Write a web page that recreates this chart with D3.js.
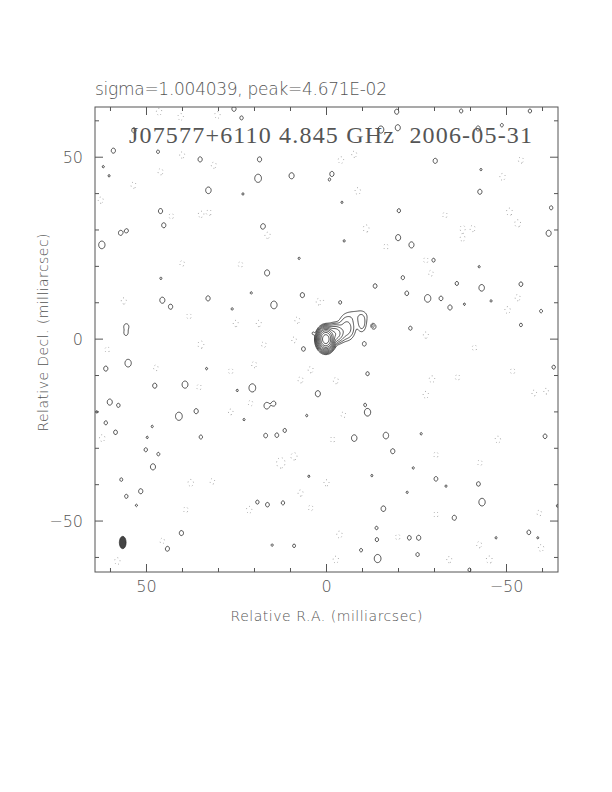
<!DOCTYPE html>
<html>
<head>
<meta charset="utf-8">
<script src="https://cdn.jsdelivr.net/npm/d3@7"></script>
<style>
body { margin: 0; background: #fff; }
text { font-family: "DejaVu Sans", sans-serif; font-weight: 200; fill: #555; }
</style>
</head>
<body>
<div id="map"></div>
<script>
// map extent (milliarcsec)
const raRange = [64.3, -64.3];
const decRange = [63.8, -64];

// ticks
const majorTicks = [50, 0, -50];
const majorLabels = ["50", "0", "\u221250"];
const minorTicks = [60, 40, 30, 20, 10, -10, -20, -30, -40, -60];

// contour levels (in units of the lowest contour)
const posLevels = [1, 2, 4, 8, 16, 32, 64, 128, 256, 512];
const negLevels = [1];

// source components: RA, Dec, peak, sigma RA, sigma Dec
const compRA   = [0.2, -2.3, -5.6, -9.8, -8.5];
const compDec  = [0.0,  1.5,  3.0,  4.3,  6.5];
const compPeak = [900,  30,   6.0,  3.0,  1.4];
const compSigRA  = [0.85, 1.2, 1.3, 0.8, 2.5];
const compSigDec = [1.15, 1.2, 1.8, 1.5, 1.3];

// positive noise peaks: [RA, Dec, size]
const posBlobs = [
  [53.5,57.4,1],[59.2,51.8,1],[46.8,51.5,0.7],[35.1,49.4,1],[18.6,49.4,1],[62.0,47.4,0.5],
  [60.4,44.9,0.5],[19.0,44.2,1.6],[9.7,44.9,1.2],[32.8,40.9,1.3],[23.2,39.9,0.5],[46.1,35.2,1],
  [45.2,31.3,1],[57.2,29.2,1],[55.5,29.8,0.8],[62.4,25.9,1.5],[17.6,30.9,1.2],[7.6,22.2,0.5],
  [16.5,18.2,1.2],[46.0,16.7,0.5],[20.9,12.7,0.5],[6.7,12.1,1],[0.9,10.7,0.7],[45.6,10.7,1.2],
  [43.3,8.9,1],[32.9,11.2,1],[14.6,9.4,1.5],[26.2,8.3,0.5],[55.6,3.4,1.2],[55.7,1.6,0.8],
  [3.7,1.6,0.5],[23.6,60.8,0.8],[25.7,63.3,1],
  [-19.5,62.5,1],[-37.4,62.7,0.8],[-56.5,62.7,0.8],[-15.1,57.6,1.4],[-19.8,58.1,1.2],[-42.1,57.9,1],
  [-48.7,58.8,0.7],[-30.2,49.0,1],[-1.5,45.4,1],[-0.8,43.8,0.5],[-42.9,46.6,0.5],[-42.6,40.5,1],
  [-4.3,37.6,0.5],[-20.1,35.3,0.8],[-62.4,36.1,0.8],[-61.7,29.1,1.2],[-19.9,27.9,1.2],[-23.6,25.9,1.2],
  [-4.9,27.0,0.5],[-29.7,21.7,0.8],[-42.4,19.9,0.5],[-21.2,16.9,0.8],[-13.5,14.6,0.9],[-36.2,15.3,0.8],
  [-43.1,14.1,1.3],[-54.0,15.1,0.9],[-22.3,12.6,0.9],[-28.1,11.2,1.5],[-31.8,11.2,0.9],[-34.3,8.7,1],
  [-38.3,9.6,0.5],[-45.7,10.5,0.5],[-59.6,7.7,0.7],[-3.8,10.1,0.7],[-54.0,3.9,0.7],[-23.3,3.0,0.8],
  [-12.8,3.7,0.5],[-13.2,3.4,0.9],
  [6.4,-2.7,0.9],[55.1,-6.6,1.5],[61.3,-8.1,1],[33.3,-8.1,0.5],[47.7,-12.8,1],[39.3,-12.5,1.4],
  [24.8,-14.1,0.5],[20.6,-13.4,1.6],[2.4,-15.0,1.2],[60.2,-17.3,1.2],[57.8,-18.2,0.8],[16.6,-18.3,1.3],
  [14.6,-17.7,0.9],[63.8,-20.0,0.5],[41.0,-21.2,1.6],[36.2,-19.8,1],[22.9,-22.1,0.5],[5.5,-21.0,0.5],
  [61.3,-23.0,0.8],[58.6,-25.6,0.9],[48.4,-24.0,0.5],[49.8,-27.0,0.5],[34.9,-26.9,0.8],[16.9,-26.5,0.9],
  [13.8,-26.4,0.9],[11.6,-25.1,0.8],[50.2,-30.4,0.8],[46.7,-31.6,0.7],[48.2,-35.1,1.2],[57.0,-38.6,0.7],
  [51.6,-41.8,1],[55.6,-43.2,0.8],[52.8,-45.7,0.5],[19.2,-44.8,0.8],[16.4,-45.5,0.9],[12.1,-45.0,0.8],
  [4.9,-37.7,0.5],[40.3,-53.3,1],[44.2,-57.6,1],[15.1,-56.6,0.5],[9.0,-56.8,0.7],
  [-10.5,-1.3,0.9],[-11.4,-9.5,0.8],[-63.1,-7.7,0.8],[-10.7,-18.0,0.5],[-11.4,-20.1,1.5],[-7.7,-27.2,1.3],
  [-16.5,-26.5,1.3],[-18.4,-30.8,1],[-60.7,-26.7,0.9],[-26.3,-26.0,0.5],[-24.1,-35.4,0.5],[-12.6,-37.5,0.5],
  [-30.4,-38.4,0.9],[-33.2,-40.4,0.5],[-42.2,-39.8,0.9],[-22.4,-42.1,0.5],[-43.2,-44.8,1.5],[-15.8,-46.6,1.1],
  [-35.5,-49.1,1],[-64.2,-45.8,0.6],[-13.9,-51.9,0.7],[-14.0,-55.1,0.8],[-23.0,-54.6,0.9],[-25.6,-54.6,1],
  [-56.2,-53.1,0.9],[-47.1,-54.6,0.5],[-58.7,-54.6,0.5],[-9.6,-58.0,0.7],[-14.2,-60.3,1.6],[-25.3,-59.2,0.8],
  [-39.7,-63.4,0.7]
];

// negative noise troughs: [RA, Dec, size]
const negBlobs = [
  [46.5,62.5,1.3],[40.5,61.1,1.3],[30.3,61.6,1.3],[40.1,50.6,1.2],[31.3,47.8,1.2],[46.1,46.0,1.2],
  [53.6,42.3,1.2],[62.7,38.2,1.2],[34.9,34.3,1.2],[32.6,34.8,1.1],[43.1,33.8,1.1],[16.4,28.6,1.3],
  [40.1,20.8,1.1],[23.9,20.5,1.1],[56.3,10.5,1.2],[2.1,10.3,1.3],[38.2,6.3,1.1],[18.8,4.3,1.2],
  [25.2,4.3,1.2],[8.1,5.2,1.2],[-4.0,49.2,1.3],[-7.7,50.8,1.2],[-8.7,40.7,1.3],[-48.9,44.6,1.3],
  [-54.0,49.2,1.2],[-11.0,30.4,1.4],[-32.9,34.1,1.1],[-37.8,30.4,1.2],[-40.6,30.4,1.2],[-50.8,35.0,1.4],
  [-53.1,31.8,1.4],[-37.8,27.7,1.1],[-27.6,21.7,1.1],[-29.0,18.1,1.1],[-50.3,8.0,1.3],[-27.6,1.1,1.2],
  [-53.1,11.4,1.2],[-16.5,25.4,1.1],[34.9,-1.5,1.4],[47.4,-7.9,1.1],[26.6,-8.8,1.1],[20.1,-7.0,1.2],
  [7.2,-11.2,1.2],[4.4,-8.4,1.2],[35.4,-13.2,1.1],[21.1,-17.6,1.1],[26.6,-20.0,1.1],[62.3,-27.2,1.3],
  [12.7,-34.0,2.0],[9.0,-32.2,1.4],[37.7,-39.5,1.3],[31.7,-39.1,1.1],[21.5,-46.9,1.3],[39.1,-46.9,1.1],
  [7.2,-42.3,1.2],[4.4,-46.4,1.1],[0.0,-39.5,1.2],[58.1,-61.0,1.3],[45.6,-55.5,1.1],[60.9,-2.9,1.1],
  [17.4,-1.5,1.1],[9.0,-0.2,1.1],[-2.6,-11.4,1.2],[-29.3,-11.0,1.3],[-36.4,-10.5,1.1],[-27.6,-15.3,1.3],
  [-4.7,-20.8,1.1],[-1.7,-27.6,1.1],[-47.6,-27.6,1.3],[-30.4,-31.8,1.1],[-42.6,-34.0,1.1],[-61.0,-14.3,1.1],
  [-57.7,-14.8,1.1],[-51.7,-8.8,1.1],[-41.1,-2.4,1.1],[-3.6,-53.7,1.3],[-2.6,-60.6,1.3],[-45.2,-60.6,1.4],
  [-59.6,-57.4,1.3],[-59.1,-47.8,1.1],[-34.1,-60.6,1.2],[-19.8,-54.4,1.1],[-30.4,-48.2,1.1],[-42.4,-56.5,1.2]
];

// restoring beam (mas)
const beamRA = 56.6, beamDec = -55.9, beamMajor = 3.4, beamMinor = 1.9;

const width = 612, height = 792;
const margin = {left: 95, right: 54, top: 107, bottom: 220};

const x = d3.scaleLinear().domain(raRange).range([margin.left, width - margin.right]);
const y = d3.scaleLinear().domain(decRange).range([margin.top, height - margin.bottom]);

const svg = d3.select("#map").append("svg")
    .attr("width", width)
    .attr("height", height);

// build the brightness grid from the components
const nx = 520, ny = 516;
const stepX = (raRange[0] - raRange[1]) / nx;
const stepY = (decRange[0] - decRange[1]) / ny;
const grid = new Float64Array(nx * ny);

function addGauss(ra, dec, amp, sx, sy) {
  const ci = (raRange[0] - ra) / stepX - 0.5;
  const cj = (decRange[0] - dec) / stepY - 0.5;
  const wx = Math.ceil(4 * sx / stepX), wy = Math.ceil(4 * sy / stepY);
  const i0 = Math.max(0, Math.floor(ci - wx)), i1 = Math.min(nx - 1, Math.ceil(ci + wx));
  const j0 = Math.max(0, Math.floor(cj - wy)), j1 = Math.min(ny - 1, Math.ceil(cj + wy));
  for (let j = j0; j <= j1; j++) {
    const dy = (j - cj) * stepY / sy;
    for (let i = i0; i <= i1; i++) {
      const dx = (i - ci) * stepX / sx;
      grid[j * nx + i] += amp * Math.exp(-0.5 * (dx * dx + dy * dy));
    }
  }
}

compRA.forEach((ra, k) => addGauss(ra, compDec[k], compPeak[k], compSigRA[k], compSigDec[k]));
posBlobs.forEach(d => addGauss(d[0], d[1], 1.5, 0.65 * d[2], 0.78 * d[2]));
negBlobs.forEach(d => addGauss(d[0], d[1], -1.5, 0.65 * d[2], 0.8 * d[2]));

const toScreen = d3.geoTransform({
  point: function(px, py) {
    this.stream.point(x(raRange[0] - px * stepX), y(decRange[0] - py * stepY));
  }
});
const path = d3.geoPath(toScreen);

const posContours = d3.contours().size([nx, ny]).thresholds(posLevels)(grid);
const negContours = d3.contours().size([nx, ny]).thresholds(negLevels)(grid.map(v => -v));

svg.append("clipPath").attr("id", "box")
  .append("rect")
    .attr("x", x(raRange[0])).attr("y", y(decRange[0]))
    .attr("width", x(raRange[1]) - x(raRange[0]))
    .attr("height", y(decRange[1]) - y(decRange[0]));

const plot = svg.append("g").attr("clip-path", "url(#box)");

plot.selectAll(".neg")
  .data(negContours)
  .join("path")
    .attr("d", path)
    .attr("fill", "none")
    .attr("stroke", "#777")
    .attr("stroke-width", 0.8)
    .attr("stroke-dasharray", "0.8,3.2");

plot.selectAll(".pos")
  .data(posContours)
  .join("path")
    .attr("d", path)
    .attr("fill", "none")
    .attr("stroke", "#1a1a1a")
    .attr("stroke-width", 0.75);

// beam
plot.append("ellipse")
  .attr("cx", x(beamRA))
  .attr("cy", y(beamDec))
  .attr("rx", Math.abs(x(beamMinor / 2) - x(0)))
  .attr("ry", Math.abs(y(beamMajor / 2) - y(0)))
  .attr("fill", "#444")
  .attr("stroke", "#222")
  .attr("stroke-width", 0.6);

// frame
svg.append("rect")
  .attr("x", x(raRange[0])).attr("y", y(decRange[0]))
  .attr("width", x(raRange[1]) - x(raRange[0]))
  .attr("height", y(decRange[1]) - y(decRange[0]))
  .attr("fill", "none")
  .attr("stroke", "#555")
  .attr("stroke-width", 1);

// inward ticks on all four sides
const ticks = majorTicks.map(v => ({v, len: 8})).concat(minorTicks.map(v => ({v, len: 4})));
const tk = svg.append("g").attr("stroke", "#555").attr("stroke-width", 1);
const x0 = x(raRange[0]), x1 = x(raRange[1]), y0 = y(decRange[0]), y1 = y(decRange[1]);

tk.selectAll(".tb").data(ticks).join("line")
  .attr("x1", d => x(d.v)).attr("x2", d => x(d.v))
  .attr("y1", y1).attr("y2", d => y1 - d.len);
tk.selectAll(".tt").data(ticks).join("line")
  .attr("x1", d => x(d.v)).attr("x2", d => x(d.v))
  .attr("y1", y0).attr("y2", d => y0 + d.len);
tk.selectAll(".tl").data(ticks).join("line")
  .attr("y1", d => y(d.v)).attr("y2", d => y(d.v))
  .attr("x1", x0).attr("x2", d => x0 + d.len);
tk.selectAll(".tr").data(ticks).join("line")
  .attr("y1", d => y(d.v)).attr("y2", d => y(d.v))
  .attr("x1", x1).attr("x2", d => x1 - d.len);

// tick labels
svg.selectAll(".xl").data(majorTicks).join("text")
  .attr("x", d => x(d))
  .attr("y", y1 + 20)
  .attr("text-anchor", "middle")
  .style("font-size", "16px")
  .text((d, i) => majorLabels[i]);

svg.selectAll(".yl").data(majorTicks).join("text")
  .attr("x", x0 - 12)
  .attr("y", d => y(d) + 6)
  .attr("text-anchor", "end")
  .style("font-size", "16px")
  .text((d, i) => majorLabels[i]);

// axis titles
svg.append("text")
  .attr("x", (x0 + x1) / 2)
  .attr("y", y1 + 49)
  .attr("text-anchor", "middle")
  .attr("textLength", 192)
  .style("font-size", "14px")
  .text("Relative R.A. (milliarcsec)");

svg.append("text")
  .attr("transform", `translate(48, ${(y0 + y1) / 2 - 7}) rotate(-90)`)
  .attr("text-anchor", "middle")
  .attr("textLength", 198)
  .style("font-size", "14px")
  .text("Relative Decl. (milliarcsec)");

// header
svg.append("text")
  .attr("x", x0)
  .attr("y", 95)
  .attr("textLength", 292)
  .style("font-size", "17px")
  .text("sigma=1.004039, peak=4.671E-02");

svg.append("text")
  .attr("x", 129)
  .attr("y", 143)
  .attr("textLength", 403)
  .style("font-family", "'Liberation Serif', 'DejaVu Serif', serif")
  .style("font-size", "24px")
  .style("font-weight", "normal")
  .style("fill", "#555")
  .attr("xml:space", "preserve")
  .text("J07577+6110 4.845 GHz  2006-05-31");
</script>
</body>
</html>
